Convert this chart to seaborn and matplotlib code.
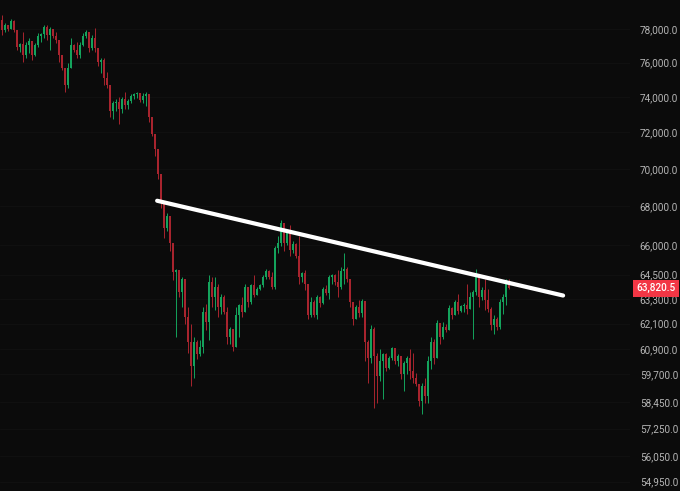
import numpy as np
import pandas as pd
import matplotlib
matplotlib.use("Agg")
import matplotlib.pyplot as plt
import matplotlib.ticker as mticker
import seaborn as sns

# candle data (open of each candle = previous close)
first_open = 78545
closes = [77940, 78242, 78000, 78485, 77940, 76927, 77104, 76455, 77045, 77281,
          76455, 77045, 77580, 77700, 78121, 77640, 78000, 77580, 77340, 76455,
          75696, 74715, 75696, 77045, 76750, 76455, 77045, 77580, 77820, 76868,
          77460, 76868, 76044, 76160, 75116, 74715, 73188, 73637, 73694, 73300,
          73865, 73524, 73751, 74033, 74145, 74202, 73808, 74033, 74145, 72852,
          71910, 71090, 69740, 68160, 66870, 67484, 66105, 64605, 64708, 63625,
          64262, 62420, 61240, 60080, 61240, 60634, 61005, 62660, 62185, 64115,
          63385, 63870, 62900, 63385, 62660, 61475, 61851, 61005, 62516, 62996,
          62660, 63870, 63140, 63968, 63481, 63772, 63968, 64360, 64659, 64360,
          63870, 65855, 66105, 67125, 66105, 66615, 65753, 66055, 65450, 64360,
          64556, 64017, 62516, 63140, 62516, 63385, 63092, 63772, 63577, 64360,
          64458, 64115, 63870, 64659, 64757, 64262, 63140, 62326, 62900, 62612,
          63189, 61240, 60448, 61851, 60540, 59620, 60310, 60634, 59988, 60448,
          60913, 60310, 60540, 59712, 60218, 60448, 59850, 59530, 59260, 58495,
          59170, 58720, 60310, 61240, 60448, 62137, 61475, 61945, 61804, 62852,
          62516, 63140, 62708, 62948, 62996, 62804, 63385, 63625, 64360, 63385,
          63723, 63238, 62804, 62041, 62326, 61945, 63140, 63385, 64164, 63820.5]
highs = [78850, 78363, 78242, 78606, 78545, 77940, 77163, 77820, 77222, 77460,
         77281, 77163, 77760, 77760, 78242, 78242, 78121, 78000, 77820, 77340,
         76455, 75696, 75986, 77460, 77104, 77222, 77222, 77760, 77940, 77820,
         77640, 78060, 76868, 76278, 76278, 75464, 74715, 73751, 73865, 73977,
         73977, 74316, 73865, 74145, 74202, 74259, 74202, 74202, 74259, 74145,
         72852, 71745, 71090, 69740, 68160, 67640, 67484, 66105, 64757, 64708,
         64360, 64262, 62900, 62089, 61475, 61334, 61334, 62900, 63044, 64458,
         64360, 64360, 64017, 63529, 63481, 62900, 61945, 61851, 62900, 63044,
         63385, 64017, 63870, 64017, 64458, 63870, 64017, 64458, 64757, 64708,
         64605, 65955, 66462, 67278, 67125, 66717, 67023, 66207, 66105, 66462,
         64605, 64708, 64017, 63385, 63238, 63481, 63433, 63870, 63968, 64458,
         64507, 64507, 64708, 64855, 65600, 64855, 64213, 63140, 62996, 63238,
         63287, 63189, 61334, 62041, 61945, 60681, 60867, 60681, 60681, 60540,
         61005, 60913, 60634, 60540, 60310, 60540, 60867, 60681, 59758, 59260,
         59305, 59530, 60540, 61475, 61381, 62279, 62089, 62185, 62089, 62996,
         62900, 63238, 63529, 62996, 63092, 64017, 63625, 63723, 64757, 64360,
         63870, 64262, 63772, 62900, 62516, 62420, 63287, 63529, 64262, 64262]
lows = [77640, 77820, 77880, 78000, 77820, 76750, 76632, 76044, 76278, 76573,
        76160, 76396, 76927, 77222, 77460, 77340, 76750, 77460, 77163, 76044,
        75580, 74316, 74544, 75696, 76632, 76278, 76278, 76986, 77460, 76632,
        76750, 76632, 75812, 75406, 74715, 74544, 72852, 72740, 73188, 72460,
        73076, 73300, 73300, 73637, 73865, 73921, 73694, 73637, 73467, 72573,
        71800, 70712, 69475, 67900, 66360, 66717, 65702, 64213, 61475, 63385,
        62900, 62089, 60681, 59170, 59530, 60402, 60540, 60681, 61804, 61334,
        62900, 62756, 62420, 62564, 62564, 61146, 61146, 60775, 61005, 61475,
        62420, 62660, 62900, 63044, 63385, 63481, 63723, 63870, 64262, 64262,
        63772, 63772, 65600, 65955, 65702, 66005, 65450, 65600, 65350, 64017,
        64115, 63723, 62326, 62420, 62420, 62326, 62900, 63044, 63481, 63287,
        64017, 63968, 63385, 63772, 64017, 64115, 62900, 62041, 62326, 62420,
        62420, 60310, 59305, 60218, 58182, 58407, 59395, 58585, 59850, 59942,
        60356, 60172, 60080, 59485, 58945, 59712, 59485, 59305, 59170, 58270,
        57918, 58407, 58407, 59942, 60172, 60448, 61146, 61381, 61710, 61804,
        62326, 62516, 62564, 62660, 62660, 62564, 62804, 61381, 63481, 62900,
        63238, 62756, 62660, 61804, 61616, 61804, 61851, 62564, 62996, 63780]

# trend line drawn on the chart (candle index, price)
trend_x = [51.7, 187.0]
trend_y = [68290, 63460]

# price scale labels
price_ticks = [78000, 76000, 74000, 72000, 70000, 68000, 66000, 64500,
               63300, 62100, 60900, 59700, 58450, 57250, 56050, 54950]
last_price = 63820.5

df = pd.DataFrame({"close": closes, "high": highs, "low": lows})
df["open"] = [first_open] + closes[:-1]
df["high"] = df[["high", "open", "close"]].max(axis=1)
df["low"] = df[["low", "open", "close"]].min(axis=1)
df["idx"] = np.arange(len(df))
df["up"] = df["close"] >= df["open"]

bg = "#0b0b0b"
green = "#14a35c"
red = "#a8242e"

sns.set_theme(style="dark", rc={"axes.facecolor": bg, "figure.facecolor": bg})
plt.rcParams["font.family"] = ["Roboto", "DejaVu Sans"]

fig = plt.figure(figsize=(6.8, 4.91), dpi=100)
ax = fig.add_axes([0, 0, 630 / 680, 1])
ax.set_facecolor(bg)

colors = np.where(df["up"], green, red)
ax.vlines(df["idx"], df["low"], df["high"], colors=colors, linewidth=0.7, zorder=2)
body_bottom = df[["open", "close"]].min(axis=1)
body_height = (df["open"] - df["close"]).abs()
ax.bar(df["idx"], body_height, bottom=body_bottom, width=0.7, color=colors,
       linewidth=0, zorder=3)

sns.lineplot(x=trend_x, y=trend_y, ax=ax, color="white", linewidth=3.0,
             solid_capstyle="round", zorder=4)

ax.set_yscale("log")
ax.set_ylim(54550, 79770)
ax.set_xlim(-0.67, 209.3)
ax.yaxis.set_major_locator(mticker.FixedLocator(price_ticks))
ax.yaxis.set_minor_locator(mticker.NullLocator())
ax.yaxis.set_major_formatter(mticker.FuncFormatter(lambda v, p: f"{v:,.1f}"))
ax.yaxis.tick_right()
ax.tick_params(axis="y", length=0, pad=7, labelsize=7.2, labelcolor="#b4b4b4")
ax.set_xticks([])
ax.grid(True, axis="y", color="#121212", linewidth=0.6)
for s in ax.spines.values():
    s.set_visible(False)

ax.text(1.01, last_price, f"{last_price:,.1f}", transform=ax.get_yaxis_transform(),
        ha="left", va="center", fontsize=7.2, color="white", fontweight="medium",
        bbox=dict(boxstyle="square,pad=0.35", facecolor="#f23645", edgecolor="none"),
        zorder=10)

fig.savefig("out.png", dpi=100, facecolor=bg)
